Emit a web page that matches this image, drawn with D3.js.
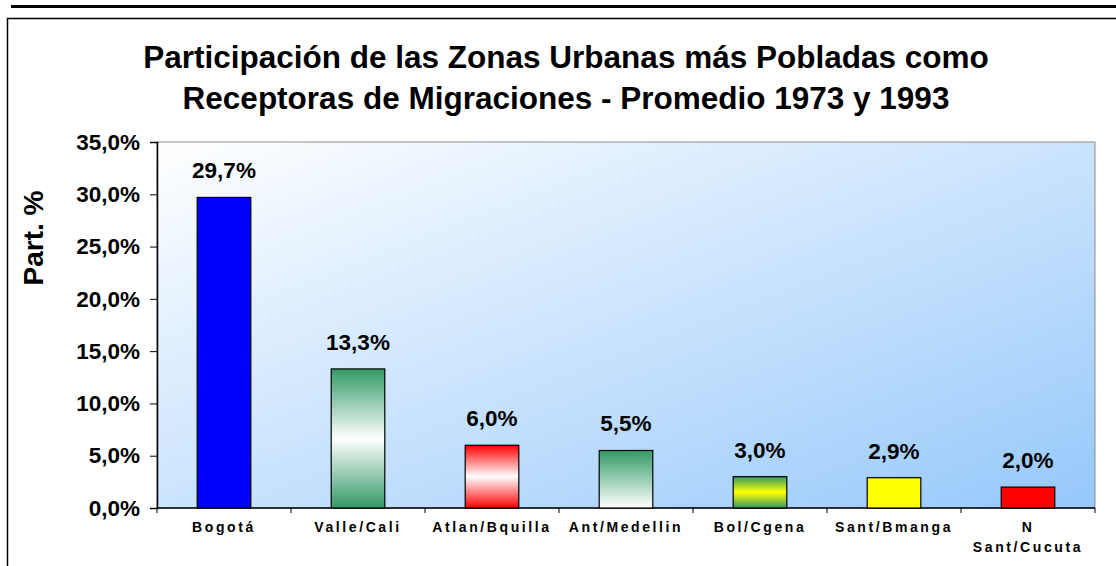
<!DOCTYPE html>
<html lang="en">
<head>
	<meta charset="utf-8">
	<title>Participación de las Zonas Urbanas</title>
	<script type="text/javascript" src="https://cdnjs.cloudflare.com/ajax/libs/d3/7.8.5/d3.min.js"></script>
</head>
<style type="text/css">
	body{ margin:0; background:#fff; }
	text{ font-family: "Liberation Sans", Arial, sans-serif; font-weight: bold; fill:#000; }
	.xlab{ font-size: 14px; letter-spacing: 2.6px; }
	.ylab{ font-size: 22.5px; }
	.vlab{ font-size: 22.5px; }
</style>
<body>
<div id="vizContainer"></div>
<script type="text/javascript">
// -----------PART 1: DATA-----------
var categories = [["Bogotá"], ["Valle/Cali"], ["Atlan/Bquilla"], ["Ant/Medellin"], ["Bol/Cgena"], ["Sant/Bmanga"], ["N", "Sant/Cucuta"]];
var values = [29.7, 13.3, 6.0, 5.5, 3.0, 2.9, 2.0];
var fills = ["solidBlue", "gGreenWhiteGreen", "gRedWhiteRed", "gGreenWhite", "gGreenYellowGreen", "solidYellow", "solidRed"];
var yTicks = [0, 5, 10, 15, 20, 25, 30, 35];
var titleLines = ["Participación de las Zonas Urbanas más Pobladas como", "Receptoras de Migraciones - Promedio 1973 y 1993"];

// -----------PART 2: CANVAS-----------
var width = 1116, height = 566;
var svgCanvas = d3.select("#vizContainer").append("svg")
	.attr("width", width)
	.attr("height", height);

var plot = {left: 157, right: 1095, top: 142, bottom: 508};

var defs = svgCanvas.append("defs");
var bg = defs.append("linearGradient").attr("id", "bgGrad")
	.attr("x1", 0).attr("y1", 0).attr("x2", 1).attr("y2", 1);
bg.append("stop").attr("offset", "0%").attr("stop-color", "#ffffff");
bg.append("stop").attr("offset", "100%").attr("stop-color", "#96c8fb");

function vGrad(id, stops){
	var g = defs.append("linearGradient").attr("id", id)
		.attr("x1", 0).attr("y1", 0).attr("x2", 0).attr("y2", 1);
	stops.forEach(function(s){
		g.append("stop").attr("offset", s[0]).attr("stop-color", s[1]);
	});
}
vGrad("gGreenWhiteGreen", [["0%", "#339966"], ["50%", "#ffffff"], ["100%", "#339966"]]);
vGrad("gRedWhiteRed", [["0%", "#ff0000"], ["50%", "#ffffff"], ["100%", "#ff0000"]]);
vGrad("gGreenWhite", [["0%", "#339966"], ["100%", "#ffffff"]]);
vGrad("gGreenYellowGreen", [["0%", "#339966"], ["50%", "#ffff00"], ["100%", "#339966"]]);

var solid = {solidBlue: "#0000ff", solidYellow: "#ffff00", solidRed: "#ff0000"};

// frame lines
svgCanvas.append("rect").attr("x", 11).attr("y", 5).attr("width", width - 11).attr("height", 3).attr("fill", "#000");
svgCanvas.append("line").attr("x1", 7).attr("x2", width).attr("y1", 18.5).attr("y2", 18.5).attr("stroke", "#000").attr("stroke-width", 1.5);
svgCanvas.append("line").attr("x1", 7.5).attr("x2", 7.5).attr("y1", 18).attr("y2", height).attr("stroke", "#000").attr("stroke-width", 1.5);

// title
svgCanvas.append("g").selectAll("text")
	.data(titleLines)
	.enter()
	.append("text")
	.attr("x", 566)
	.attr("y", function(d, i){ return 68 + 41 * i; })
	.attr("text-anchor", "middle")
	.style("font-size", "31.5px")
	.text(function(d){ return d; });

// -----------PART 3: DRAWING-----------
var xScale = d3.scaleBand()
	.domain(d3.range(categories.length))
	.range([plot.left, plot.right])
	.paddingInner(0.6)
	.paddingOuter(0.3);
var step = xScale.step();

var yScale = d3.scaleLinear()
	.domain([0, 35])
	.range([plot.bottom, plot.top]);

// plot area
svgCanvas.append("rect")
	.attr("x", plot.left).attr("y", plot.top)
	.attr("width", plot.right - plot.left).attr("height", plot.bottom - plot.top)
	.attr("fill", "url(#bgGrad)")
	.attr("stroke", "#8c8c8c").attr("stroke-width", 1);

var fmt = d3.formatLocale({decimal: ",", thousands: ".", grouping: [3], currency: ["", ""]}).format(".1f");

// y axis
var yAxis = d3.axisLeft(yScale).tickValues(yTicks).tickSize(7).tickPadding(10)
	.tickFormat(function(d){ return fmt(d) + "%"; });
var yg = svgCanvas.append("g").attr("transform", "translate(" + plot.left + ",0)").call(yAxis);
yg.select(".domain").attr("stroke", "#000").attr("stroke-width", 1.5);
yg.selectAll(".tick line").attr("stroke", "#000");
yg.selectAll(".tick text").attr("class", "ylab").attr("fill", "#000");
yg.attr("font-family", null).attr("font-size", null);

// x axis
svgCanvas.append("line").attr("x1", plot.left).attr("x2", plot.right)
	.attr("y1", plot.bottom).attr("y2", plot.bottom).attr("stroke", "#000").attr("stroke-width", 1.5);
svgCanvas.append("g").selectAll("line")
	.data(d3.range(categories.length + 1))
	.enter()
	.append("line")
	.attr("x1", function(d){ return plot.left + d * step; })
	.attr("x2", function(d){ return plot.left + d * step; })
	.attr("y1", plot.bottom).attr("y2", plot.bottom + 5)
	.attr("stroke", "#000");

var xl = svgCanvas.append("g").selectAll("text")
	.data(categories)
	.enter()
	.append("text")
	.attr("class", "xlab")
	.attr("text-anchor", "middle")
	.attr("x", function(d, i){ return xScale(i) + xScale.bandwidth() / 2; })
	.attr("y", 532);
xl.selectAll("tspan")
	.data(function(d){ return d; })
	.enter()
	.append("tspan")
	.attr("x", function(){ return d3.select(this.parentNode).attr("x"); })
	.attr("dy", function(d, i){ return i === 0 ? 0 : 20; })
	.text(function(d){ return d; });

// bars
svgCanvas.append("g").selectAll("rect")
	.data(values)
	.enter()
	.append("rect")
	.attr("x", function(d, i){ return xScale(i); })
	.attr("y", function(d){ return yScale(d); })
	.attr("width", xScale.bandwidth())
	.attr("height", function(d){ return plot.bottom - yScale(d); })
	.attr("fill", function(d, i){ return solid[fills[i]] || "url(#" + fills[i] + ")"; })
	.attr("stroke", "#000")
	.attr("stroke-width", 1.2);

// value labels
svgCanvas.append("g").selectAll("text")
	.data(values)
	.enter()
	.append("text")
	.attr("class", "vlab")
	.attr("text-anchor", "middle")
	.attr("x", function(d, i){ return xScale(i) + xScale.bandwidth() / 2; })
	.attr("y", function(d){ return yScale(d) - 19; })
	.text(function(d){ return fmt(d) + "%"; });

// y title
svgCanvas.append("text")
	.attr("transform", "translate(43,238) rotate(-90)")
	.attr("text-anchor", "middle")
	.style("font-size", "28px")
	.text("Part. %");
</script>
</body>
</html>
